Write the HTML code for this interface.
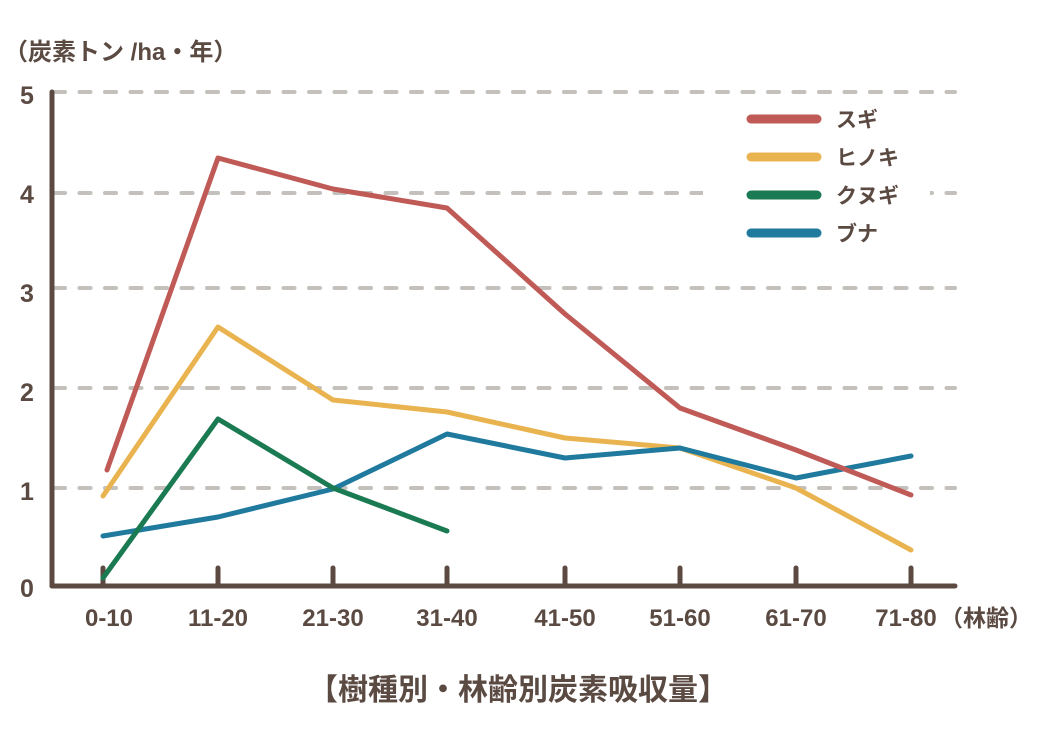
<!DOCTYPE html>
<html><head><meta charset="utf-8"><style>
body{margin:0;background:#fff;}
svg text{font-family:"Liberation Sans","Noto Sans CJK JP",sans-serif;fill:#5a4a42;font-weight:bold;}
</style></head><body>
<svg width="1040" height="730" viewBox="0 0 1040 730" xmlns="http://www.w3.org/2000/svg">
<g stroke="#c4c0bc" stroke-width="4" stroke-dasharray="11 14.5" stroke-linecap="round">
<line x1="54" y1="92" x2="955" y2="92"/>
<line x1="54" y1="193" x2="955" y2="193"/>
<line x1="54" y1="288" x2="955" y2="288"/>
<line x1="54" y1="388" x2="955" y2="388"/>
<line x1="54" y1="488" x2="955" y2="488"/>
</g>
<rect x="703" y="98" width="227" height="152" fill="#fff"/>
<g stroke="#5c4a42" stroke-width="5" stroke-linecap="round" fill="none">
<line x1="52" y1="92" x2="52" y2="586"/>
<line x1="52" y1="586" x2="955" y2="586"/>
<g stroke-width="5">
<line x1="103" y1="568" x2="103" y2="586"/><line x1="218" y1="568" x2="218" y2="586"/>
<line x1="333" y1="568" x2="333" y2="586"/><line x1="447" y1="568" x2="447" y2="586"/>
<line x1="565" y1="568" x2="565" y2="586"/><line x1="680" y1="568" x2="680" y2="586"/>
<line x1="796" y1="568" x2="796" y2="586"/><line x1="911" y1="568" x2="911" y2="586"/>
</g></g>
<g fill="none" stroke-width="5" stroke-linejoin="round" stroke-linecap="round">
<polyline stroke="#e9b450" points="103,496 218,327 333,400 447,412 565,438 680,448 796,488 911,550"/>
<polyline stroke="#1f7a9e" points="103,536 218,517 333,489 447,434 565,458 680,448 796,478 911,456"/>
<polyline stroke="#1a7a52" points="103,578 218,419 333,488 447,531"/>
<polyline stroke="#c05a56" points="107,470 218,158 333,189 447,208 565,314 680,408 796,450 911,495"/>
</g>
<g stroke-width="9" stroke-linecap="round">
<line x1="751" y1="119" x2="817" y2="119" stroke="#c05a56"/>
<line x1="751" y1="157" x2="817" y2="157" stroke="#e9b450"/>
<line x1="751" y1="195" x2="817" y2="195" stroke="#1a7a52"/>
<line x1="751" y1="233" x2="817" y2="233" stroke="#1f7a9e"/>
</g>
<g font-size="21">
<text x="836" y="127">スギ</text>
<text x="836" y="165">ヒノキ</text>
<text x="836" y="203">クヌギ</text>
<text x="836" y="241">ブナ</text>
</g>
<text x="4" y="60" font-size="24">（炭素トン /ha・年）</text>
<g font-size="25" text-anchor="middle">
<text x="27" y="104">5</text><text x="27" y="203">4</text><text x="27" y="302">3</text>
<text x="27" y="401">2</text><text x="27" y="500">1</text><text x="27" y="597">0</text>
</g>
<g font-size="24" text-anchor="middle">
<text x="109" y="626">0-10</text><text x="218" y="626">11-20</text><text x="333" y="626">21-30</text>
<text x="447" y="626">31-40</text><text x="565" y="626">41-50</text><text x="680" y="626">51-60</text>
<text x="796" y="626">61-70</text><text x="906" y="626">71-80</text>
</g>
<text x="940" y="626" font-size="23">（林齢）</text>
<text x="518" y="700" font-size="30" text-anchor="middle">【樹種別・林齢別炭素吸収量】</text>
</svg>
</body></html>
